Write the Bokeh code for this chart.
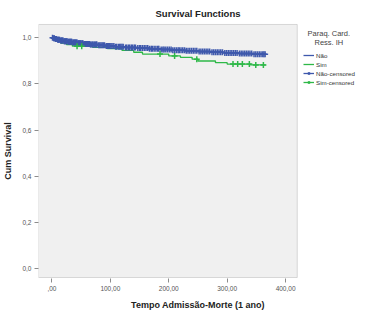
from bokeh.plotting import figure
from bokeh.models import FixedTicker, Legend, LegendItem, Range1d, Label, BoxAnnotation
from bokeh.embed import file_html
from bokeh.resources import INLINE

# ---- data ----
group_labels = ["Não", "Sim"]
legend_title = ["Paraq. Card.", "Ress. IH"]

nao_times = [0, 2, 5, 9, 14, 20, 27, 35, 44, 54, 65, 78, 92, 108, 125, 145, 165, 185,
             205, 228, 250, 272, 295, 320, 345, 366]
nao_surv = [1.0, 0.997, 0.994, 0.991, 0.988, 0.985, 0.982, 0.979, 0.976, 0.973, 0.970,
            0.967, 0.964, 0.961, 0.958, 0.955, 0.952, 0.949, 0.946, 0.943, 0.940, 0.937,
            0.934, 0.931, 0.928, 0.928]
nao_censored = [1, 3, 4, 6, 7, 8, 10, 11, 12, 13, 15, 16, 17, 18, 19, 21, 22, 23, 24, 25,
                26, 28, 29, 30, 31, 32, 33, 34, 36, 37, 38, 39, 40, 41, 42, 43, 45, 46, 47,
                48, 49, 50, 52, 53, 55, 56, 57, 58, 59, 61, 62, 63, 64, 66, 67, 69, 70, 72,
                73, 75, 76, 77, 80, 82, 84, 86, 88, 90, 93, 95, 97, 99, 101, 103, 106, 109,
                111, 114, 116, 118, 120, 122, 126, 128, 131, 133, 136, 138, 141, 143, 147,
                150, 152, 155, 158, 161, 164, 167, 170, 172, 175, 178, 181, 183, 187, 190,
                192, 195, 198, 201, 204, 207, 210, 213, 216, 218, 221, 224, 227, 230, 233,
                236, 239, 242, 245, 248, 252, 255, 258, 261, 264, 267, 270, 274, 277, 280,
                283, 286, 289, 292, 296, 299, 302, 305, 308, 311, 314, 317, 321, 324, 327,
                330, 333, 336, 339, 342, 346, 349, 352, 355, 358, 361, 363, 365]

sim_times = [0, 3, 8, 15, 25, 35, 70, 95, 120, 140, 155, 200, 220, 240, 250, 280, 300,
             340, 366]
sim_surv = [1.0, 0.99, 0.984, 0.977, 0.970, 0.963, 0.958, 0.953, 0.945, 0.937, 0.929,
            0.921, 0.915, 0.907, 0.899, 0.892, 0.886, 0.882, 0.882]
sim_censored = [43, 51, 185, 210, 248, 310, 318, 326, 338, 349, 362]

x_ticks = [0, 100, 200, 300, 400]
x_tick_labels = [",00", "100,00", "200,00", "300,00", "400,00"]
y_ticks = [0.0, 0.2, 0.4, 0.6, 0.8, 1.0]
y_tick_labels = ["0,0", "0,2", "0,4", "0,6", "0,8", "1,0"]

BLUE = "#3E58AC"
GREEN = "#2EB848"
FONT = "Liberation Sans"


def surv_at(times, surv, t):
    s = surv[0]
    for ti, si in zip(times, surv):
        if ti <= t:
            s = si
    return s


# ---- layout geometry ----
W, H = 357, 312
BL, BR, BT, BB = 34, 0, 17, 34
FRAME_W = W - BL - BR
FRAME_H = H - BT - BB
BOX_W = 262                      # width of the grey plot box (px)
X0, X1 = -23, 420                # data span of the grey box
Y0, Y1 = -0.037, 1.057
xu = (X1 - X0) / BOX_W           # data units per px
yu = (Y1 - Y0) / (FRAME_H - 2)
XE = X0 + FRAME_W * xu


def fx(px):   # figure px -> data x
    return X0 + (px - BL) * xu


def fy(py):   # figure px (from top) -> data y
    return Y1 - (py - BT - 1) * yu


p = figure(width=W, height=H, output_backend="svg", toolbar_location=None,
           x_range=Range1d(X0, XE), y_range=Range1d(Y0 - yu, Y1 + yu),
           min_border_left=BL, min_border_top=BT, min_border_bottom=BB, min_border_right=BR)

p.title.text = "Survival Functions"
p.title.align = "center"
p.title.text_font = FONT
p.title.text_font_size = "9.5px"
p.title.text_font_style = "bold"
p.title.text_color = "#222222"

p.background_fill_color = "white"
p.border_fill_color = "white"
p.outline_line_color = None
p.grid.visible = False

p.add_layout(BoxAnnotation(left=X0, right=X1, bottom=Y0, top=Y1, fill_color="#F0F0F0",
                           fill_alpha=1, line_color="#8C8C8C", line_width=1, level="underlay"))

for ax in (p.xaxis[0], p.yaxis[0]):
    ax.major_tick_line_color = "#8C8C8C"
    ax.major_tick_out = 4
    ax.major_tick_in = 0
    ax.minor_tick_line_color = None
    ax.major_label_standoff = 3
    ax.major_label_text_font = FONT
    ax.major_label_text_font_size = "6.5px"
    ax.major_label_text_color = "#555555"
    ax.axis_label_text_font = FONT
    ax.axis_label_text_font_size = "9px"
    ax.axis_label_text_font_style = "bold"
    ax.axis_label_text_color = "#222222"
p.xaxis.axis_line_color = None
p.yaxis.axis_line_color = None

p.xaxis.ticker = FixedTicker(ticks=x_ticks)
p.xaxis.major_label_overrides = {t: l for t, l in zip(x_ticks, x_tick_labels)}
p.yaxis.ticker = FixedTicker(ticks=y_ticks)
p.yaxis.major_label_overrides = {t: l for t, l in zip(y_ticks, y_tick_labels)}
p.xaxis.axis_label = "Tempo Admissão-Morte (1 ano)"
p.yaxis.axis_label = "Cum Survival"
p.xaxis.axis_label_standoff = 6
p.yaxis.axis_label_standoff = 6

r_nao = p.step(nao_times, nao_surv, mode="after", line_color=BLUE, line_width=1.3)
r_sim = p.step(sim_times, sim_surv, mode="after", line_color=GREEN, line_width=1.3)

nao_cy = [surv_at(nao_times, nao_surv, t) for t in nao_censored]
sim_cy = [surv_at(sim_times, sim_surv, t) for t in sim_censored]
r_nao_c = p.scatter(nao_censored, nao_cy, marker="cross", size=6, line_color=BLUE, line_width=1.5)
r_sim_c = p.scatter(sim_censored, sim_cy, marker="cross", size=6, line_color=GREEN, line_width=1.5)

legend = Legend(items=[
    LegendItem(label=group_labels[0], renderers=[r_nao]),
    LegendItem(label=group_labels[1], renderers=[r_sim]),
    LegendItem(label=group_labels[0] + "-censored", renderers=[r_nao, r_nao_c]),
    LegendItem(label=group_labels[1] + "-censored", renderers=[r_sim, r_sim_c]),
], location=(BOX_W + 3, FRAME_H - 69))
legend.label_text_font = FONT
legend.label_text_font_size = "6.2px"
legend.label_text_color = "#333333"
legend.label_height = 8
legend.label_standoff = 2
legend.glyph_height = 8
legend.glyph_width = 11
legend.spacing = 1
legend.padding = 1
legend.margin = 0
legend.border_line_color = None
legend.background_fill_alpha = 0
p.add_layout(legend)

for i, line in enumerate(legend_title):
    p.add_layout(Label(x=fx(328), y=fy(27 + 9 * i), text=line, text_font=FONT,
                       text_font_size="7.5px", text_color="#444444",
                       text_align="center", text_baseline="middle"))

open("out.html", "w").write(file_html(p, INLINE))
